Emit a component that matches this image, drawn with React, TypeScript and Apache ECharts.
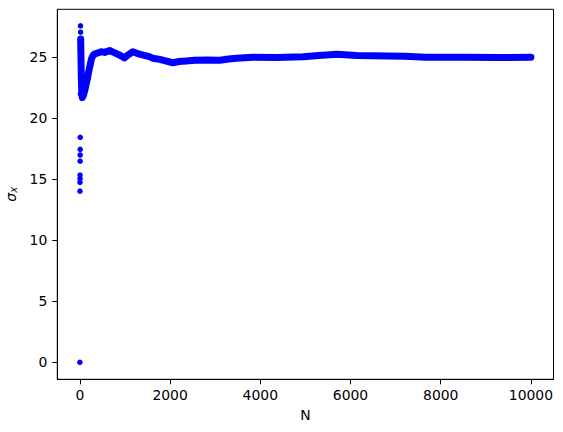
import { useEffect, useRef } from 'react';
import * as echarts from 'echarts';

// first draws: the lone dots near N = 0
const earlyN = [1, 2, 3, 4, 5, 6, 7, 8, 9, 12, 14, 16];
const earlySigma = [0, 14.03, 14.75, 15.05, 15.35, 16.48, 16.99, 17.46, 18.44, 22.0, 27.57, 27.05];

// running sigma
const bandN = [
  18, 20, 24, 28, 32, 38, 45, 55, 80, 110, 140, 170, 200, 230, 260, 300, 350, 400, 470, 550,
  660, 750, 840, 920, 990, 1070, 1175, 1250, 1320, 1430, 1540, 1620, 1770, 1900, 2060, 2200,
  2360, 2550, 2800, 3100, 3300, 3470, 3840, 4350, 4950, 5300, 5700, 6130, 6500, 6800, 7200,
  7680, 8500, 9300, 10000,
];
const bandSigma = [
  26.5, 26.0, 25.2, 24.3, 23.4, 22.6, 22.0, 21.7, 21.9, 22.3, 22.8, 23.3, 23.9, 24.4, 24.9,
  25.2, 25.3, 25.35, 25.45, 25.4, 25.55, 25.4, 25.25, 25.1, 24.95, 25.2, 25.45, 25.35, 25.25,
  25.15, 25.05, 24.92, 24.83, 24.7, 24.55, 24.65, 24.7, 24.75, 24.78, 24.75, 24.85, 24.92,
  25.0, 24.98, 25.05, 25.15, 25.25, 25.15, 25.12, 25.1, 25.08, 25.0, 25.0, 24.98, 25.0,
];

const xTicks = [0, 2000, 4000, 6000, 8000, 10000];
const yTicks = [0, 5, 10, 15, 20, 25];

const FONT = 'DejaVu Sans';

export default function App() {
  const ref = useRef<HTMLDivElement>(null);

  useEffect(() => {
    if (!ref.current) return;
    const chart = echarts.init(ref.current, undefined, { renderer: 'svg' });

    const axisCommon = {
      type: 'value' as const,
      axisLine: { show: true, onZero: false, lineStyle: { color: '#000', width: 1 } },
      splitLine: { show: false },
    };

    chart.setOption({
      animation: false,
      backgroundColor: '#fff',
      grid: {
        left: 57.3,
        right: 9.5,
        top: 9.3,
        bottom: 52.7,
        containLabel: false,
        outerBoundsMode: 'none',
        show: true,
        borderColor: '#000',
        borderWidth: 1,
      },
      xAxis: {
        ...axisCommon,
        min: -500,
        max: 10500,
        axisTick: {
          show: true,
          length: 5,
          customValues: xTicks,
          lineStyle: { color: '#000', width: 1 },
        },
        axisLabel: {
          customValues: xTicks,
          formatter: (v: number) => String(v),
          margin: 9,
          color: '#000',
          fontSize: 13.9,
          fontFamily: FONT,
        },
        name: 'N',
        nameLocation: 'middle',
        nameGap: 29,
        nameTextStyle: { color: '#000', fontSize: 13.9, fontFamily: FONT, verticalAlign: 'top' },
      },
      yAxis: {
        ...axisCommon,
        min: -1.39,
        max: 28.93,
        axisTick: {
          show: true,
          length: 5,
          customValues: yTicks,
          lineStyle: { color: '#000', width: 1 },
        },
        axisLabel: {
          customValues: yTicks,
          formatter: (v: number) => String(v),
          margin: 10,
          color: '#000',
          fontSize: 13.9,
          fontFamily: FONT,
        },
        name: '{s|σ}{x|x}',
        nameLocation: 'middle',
        nameGap: 37,
        nameRotate: 90,
        nameTextStyle: {
          color: '#000',
          fontFamily: FONT,
          rich: {
            s: { fontSize: 14, fontStyle: 'italic', fontFamily: FONT, color: '#000' },
            x: { fontSize: 10, fontStyle: 'italic', fontFamily: FONT, color: '#000', padding: [6, 0, 0, 0] },
          },
        },
      },
      series: [
        {
          type: 'line',
          data: bandN.map((n, i) => [n, bandSigma[i]]),
          showSymbol: false,
          lineStyle: { color: '#0000ff', width: 7, cap: 'round', join: 'round' },
          z: 2,
        },
        {
          type: 'scatter',
          data: earlyN.map((n, i) => [n, earlySigma[i]]),
          symbolSize: 5.5,
          itemStyle: { color: '#0000ff', opacity: 1 },
          z: 3,
        },
      ],
    });

    return () => chart.dispose();
  }, []);

  return (
    <div
      ref={ref}
      style={{ position: 'absolute', left: 0, top: 0, width: 563, height: 432 }}
    />
  );
}
